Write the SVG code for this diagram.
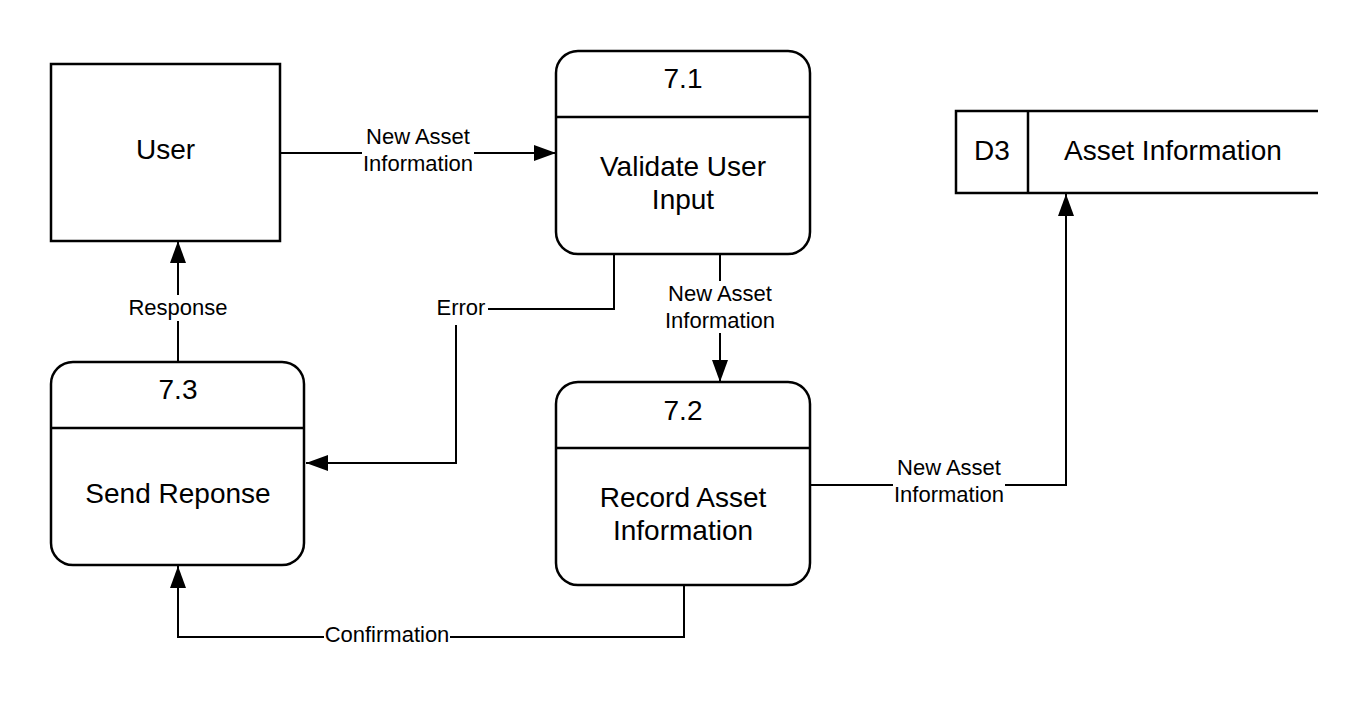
<svg xmlns="http://www.w3.org/2000/svg" width="1369" height="702" viewBox="0 0 1369 702">
<defs>
<style>
.box{fill:#fff;stroke:#000;stroke-width:2.5}
.div{stroke:#000;stroke-width:2.5;fill:none}
.t{font-family:"Liberation Sans",Arial,sans-serif;font-size:28px;fill:#000;text-anchor:middle}
.l{font-family:"Liberation Sans",Arial,sans-serif;font-size:22px;fill:#000;text-anchor:middle}
.c{fill:none;stroke:#000;stroke-width:2}
.bg{fill:#fff}
</style>
<marker id="arr" viewBox="0 0 22 16" refX="22" refY="8" markerWidth="22" markerHeight="16" markerUnits="userSpaceOnUse" orient="auto">
<path d="M0,0 L22,8 L0,16 z" fill="#000"/>
</marker>
</defs>
<rect width="1369" height="702" fill="#fff"/>
<g id="connectors">
<path class="c" d="M280,153 H556" marker-end="url(#arr)"/>
<path class="c" d="M178,362 V241" marker-end="url(#arr)"/>
<path class="c" d="M614,254 V309 H456 V463 H306" marker-end="url(#arr)"/>
<path class="c" d="M720,254 V382" marker-end="url(#arr)"/>
<path class="c" d="M810,485 H1066 V194" marker-end="url(#arr)"/>
<path class="c" d="M684,585 V637 H178 V566" marker-end="url(#arr)"/>
<rect class="bg" x="362" y="124" width="112" height="52"/>
<text class="l" x="418" y="144">New Asset</text>
<text class="l" x="418" y="171">Information</text>
<rect class="bg" x="128" y="295" width="100" height="26"/>
<text class="l" x="178" y="315">Response</text>
<rect class="bg" x="436" y="295" width="52" height="30"/>
<text class="l" x="461" y="315">Error</text>
<rect class="bg" x="664" y="281" width="112" height="52"/>
<text class="l" x="720" y="301">New Asset</text>
<text class="l" x="720" y="328">Information</text>
<rect class="bg" x="893" y="455" width="112" height="52"/>
<text class="l" x="949" y="475">New Asset</text>
<text class="l" x="949" y="502">Information</text>
<rect class="bg" x="324" y="622" width="126" height="26"/>
<text class="l" x="387" y="642">Confirmation</text>
</g>
<g id="user">
<rect class="box" x="51" y="64" width="229" height="177"/>
<text class="t" x="165.5" y="159">User</text>
</g>
<g id="p71">
<rect class="box" x="556" y="51" width="254" height="203" rx="22"/>
<line class="div" x1="556" y1="117" x2="810" y2="117"/>
<text class="t" x="683" y="88">7.1</text>
<text class="t" x="683" y="176">Validate User</text>
<text class="t" x="683" y="209">Input</text>
</g>
<g id="d3">
<path class="div" d="M1318,111 H956 V193 H1318"/>
<line class="div" x1="1028" y1="111" x2="1028" y2="193"/>
<text class="t" x="992" y="160">D3</text>
<text class="t" x="1173" y="160">Asset Information</text>
</g>
<g id="p73">
<rect class="box" x="51" y="362" width="253" height="203" rx="22"/>
<line class="div" x1="51" y1="428" x2="304" y2="428"/>
<text class="t" x="178" y="399">7.3</text>
<text class="t" x="178" y="503">Send Reponse</text>
</g>
<g id="p72">
<rect class="box" x="556" y="382" width="254" height="203" rx="22"/>
<line class="div" x1="556" y1="448" x2="810" y2="448"/>
<text class="t" x="683" y="420">7.2</text>
<text class="t" x="683" y="507">Record Asset</text>
<text class="t" x="683" y="540">Information</text>
</g>
</svg>
